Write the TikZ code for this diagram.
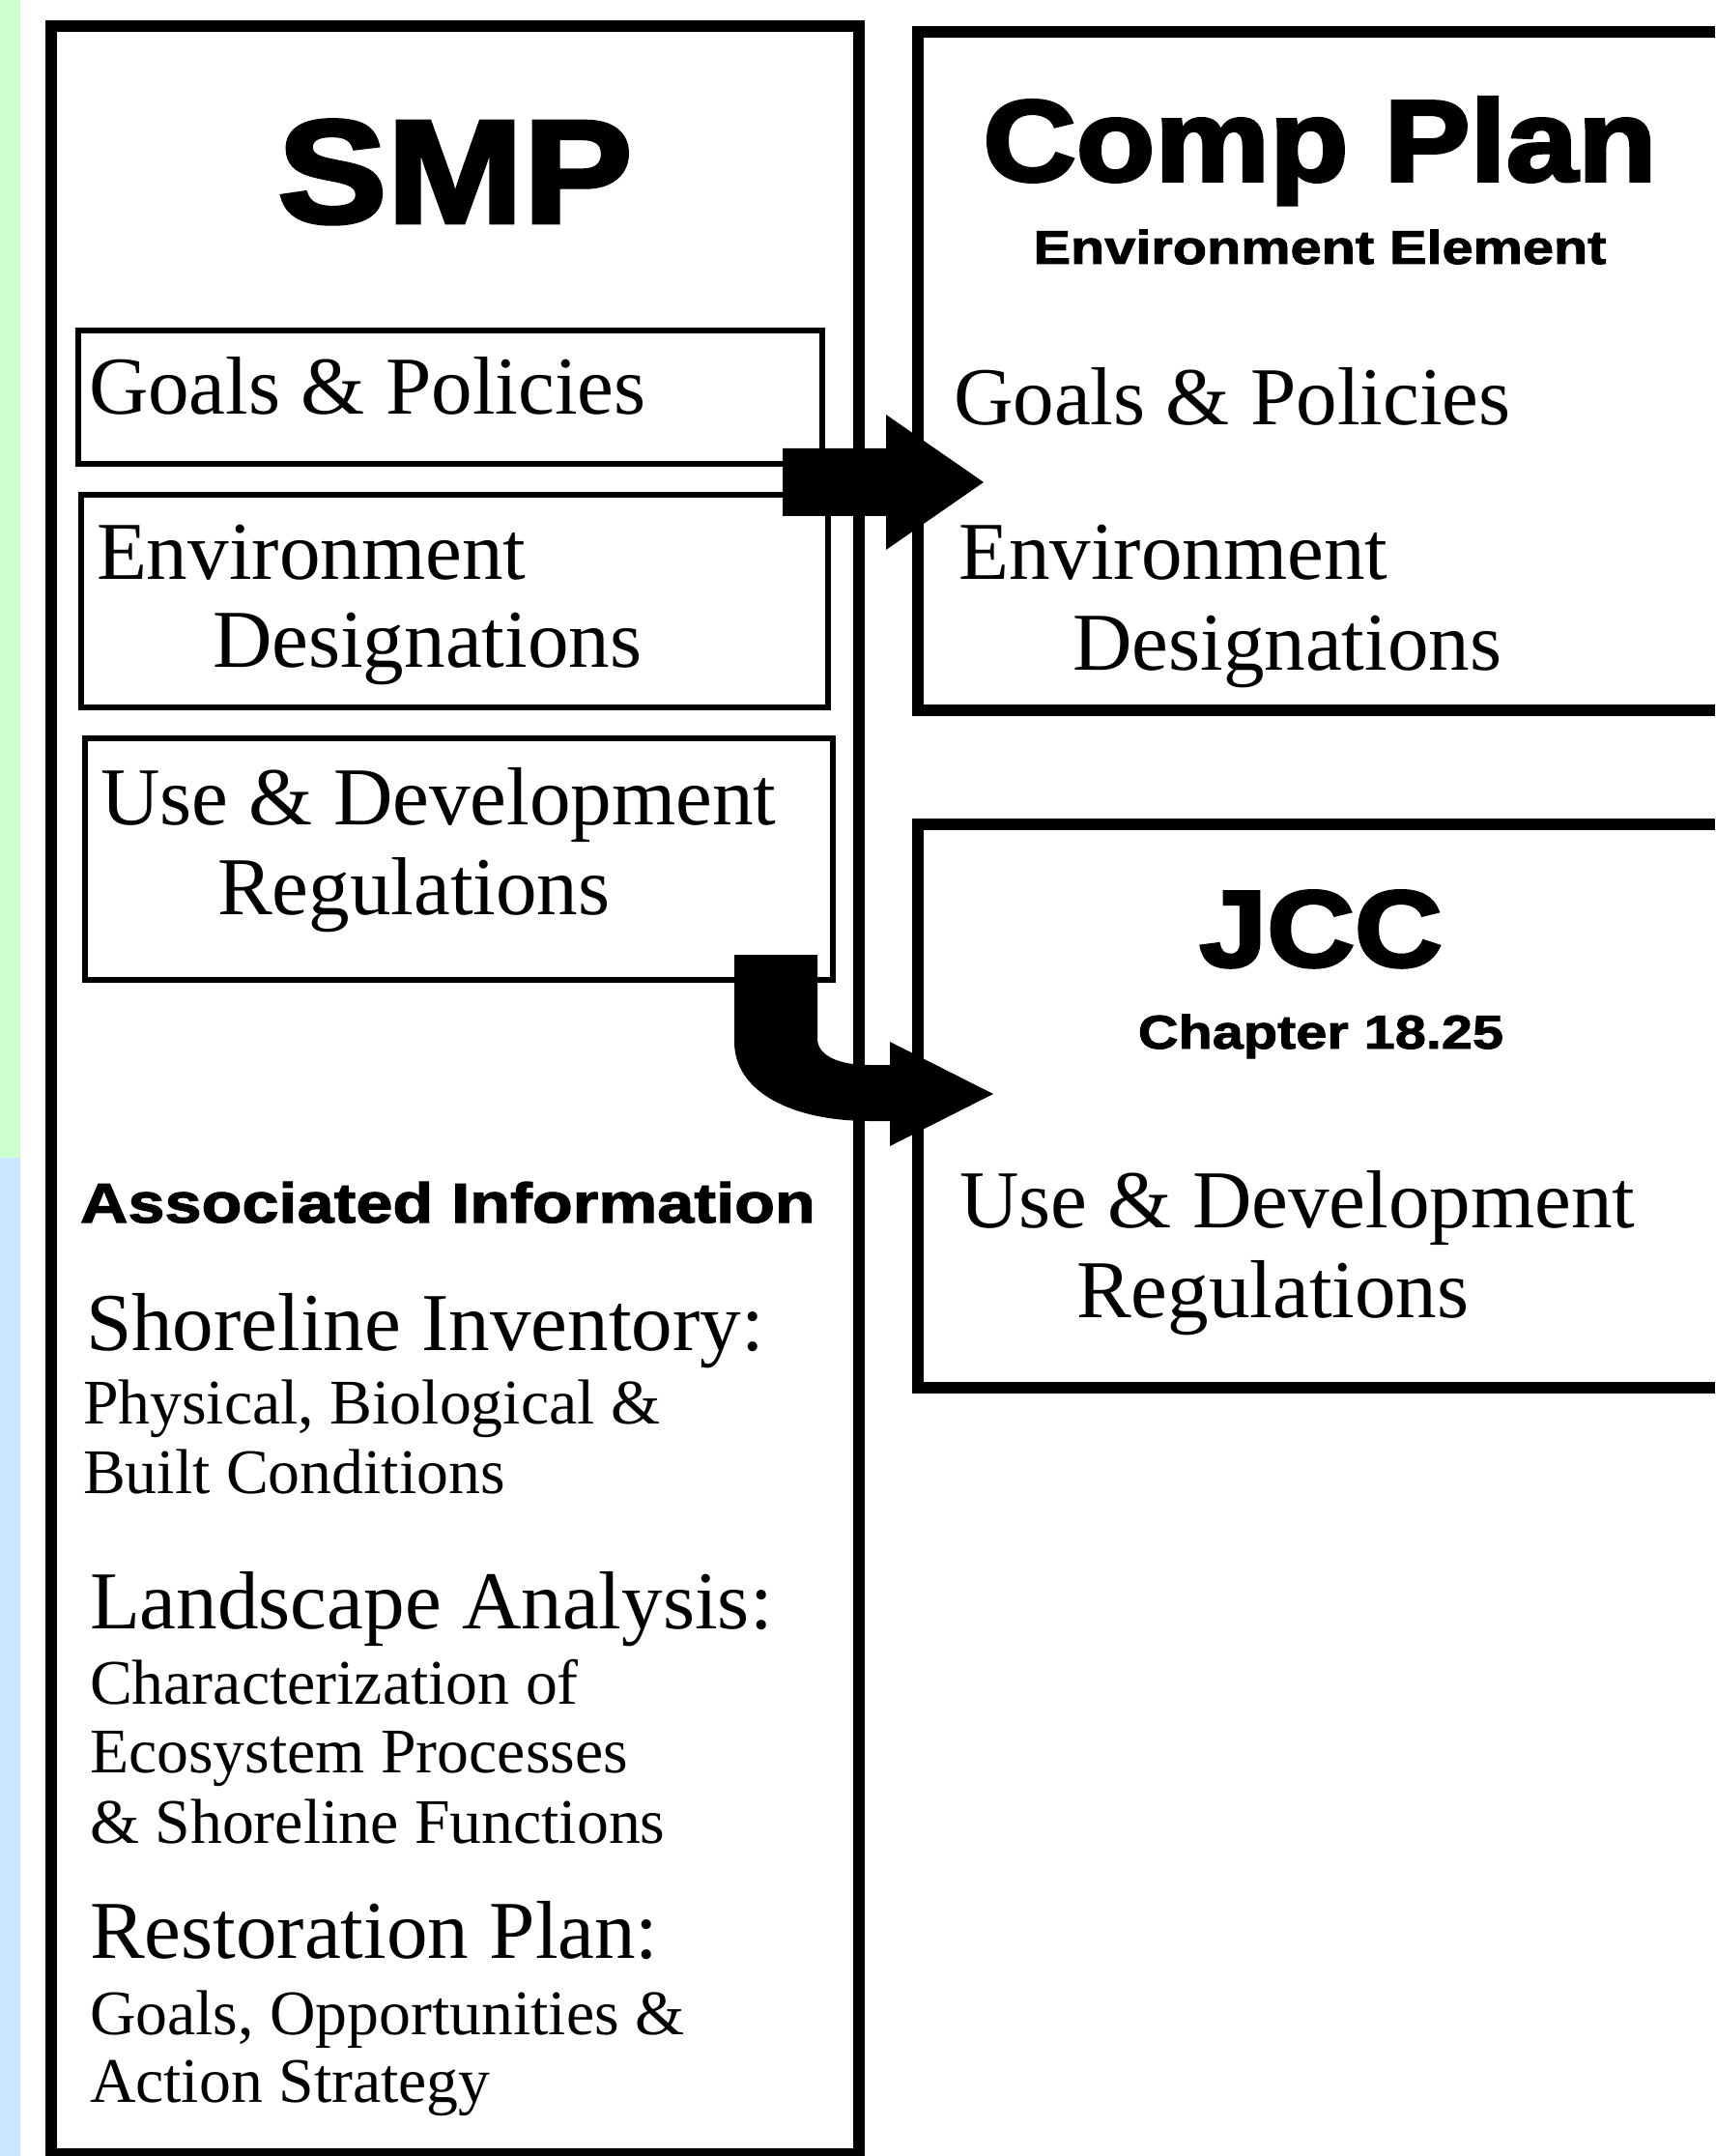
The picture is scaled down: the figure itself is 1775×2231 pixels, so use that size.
\documentclass[tikz,border=0pt]{standalone}
\usepackage{fontspec}
\setmainfont{Liberation Serif}
\newfontfamily\headfont{Liberation Sans Bold}[FakeBold=3,FakeStretch=1.12]
\newfontfamily\subheadfont{Liberation Sans Bold}[FakeBold=2,FakeStretch=1.18]
\usetikzlibrary{calc}
\definecolor{stripgreen}{RGB}{204,255,204}
\definecolor{stripblue}{RGB}{204,232,255}

\begin{document}
\begin{tikzpicture}[x=0.01cm, y=-0.01cm,
  every node/.style={inner sep=0pt, outer sep=0pt},
  outerbox/.style={draw, line width=3.4pt},
  innerbox/.style={draw, line width=1.6pt},
  bigtext/.style={anchor=base west, font=\fontsize{24.2}{29}\selectfont},
  smalltext/.style={anchor=base west, font=\fontsize{18.7}{22}\selectfont},
  heading/.style={anchor=base, font=\headfont\fontsize{#1}{#1}\selectfont},
  subheading/.style={anchor=base, font=\subheadfont\fontsize{#1}{#1}\selectfont}]
  \useasboundingbox (0,0) rectangle (1775,2231);

  % side strip
  \fill[stripgreen] (0,0) rectangle (21,1198);
  \fill[stripblue] (0,1198) rectangle (21,2231);

  % SMP column
  \draw[outerbox] (53,27) rectangle (889,2229);
  \draw[innerbox] (81,342) rectangle (851,480);
  \draw[innerbox] (84,512) rectangle (857,732);
  \draw[innerbox] (88,764) rectangle (862,1014);

  \node[heading=43] (smp) at (471,230) {SMP};
  \node[bigtext] (smpgoals) at (92,429) {Goals \& Policies};
  \node[bigtext] (smpenv) at (100,600) {Environment};
  \node[bigtext] (smpdes) at (220,690) {Designations};
  \node[bigtext] (smpuse) at (104,853) {Use \& Development};
  \node[bigtext] (smpreg) at (225,946) {Regulations};

  \node[subheading=16.5, anchor=base west] (assoc) at (83,1265) {Associated Information};
  \node[bigtext] (inv) at (89,1397) {Shoreline Inventory:};
  \node[smalltext] (invone) at (86,1473) {Physical, Biological \&};
  \node[smalltext] (invtwo) at (86,1545) {Built Conditions};
  \node[bigtext] (land) at (93,1685) {Landscape Analysis:};
  \node[smalltext] (landone) at (93,1763) {Characterization of};
  \node[smalltext] (landtwo) at (93,1834) {Ecosystem Processes};
  \node[smalltext] (landthree) at (93,1907) {\& Shoreline Functions};
  \node[bigtext] (rest) at (93,2026) {Restoration Plan:};
  \node[smalltext] (restone) at (93,2105) {Goals, Opportunities \&};
  \node[smalltext] (resttwo) at (93,2175) {Action Strategy};

  % Comp Plan
  \draw[outerbox] (1775,33) -- (950,33) -- (950,735) -- (1775,735);
  \node[heading=33.9] (cp) at (1366,187) {Comp Plan};
  \node[subheading=13.9] (cpsub) at (1366,273) {Environment Element};
  \node[bigtext] (cpgoals) at (987,440) {Goals \& Policies};
  \node[bigtext] (cpenv) at (992,600) {Environment};
  \node[bigtext] (cpdes) at (1110,693) {Designations};

  % JCC
  \draw[outerbox] (1775,853) -- (950,853) -- (950,1436) -- (1775,1436);
  \node[heading=31.9] (jcc) at (1367,1000) {JCC};
  \node[subheading=13.9] (jccsub) at (1367,1085) {Chapter 18.25};
  \node[bigtext] (jccuse) at (993,1270) {Use \& Development};
  \node[bigtext] (jccreg) at (1114,1363) {Regulations};

  % block arrows
  \coordinate (gpfrom) at (810,499);
  \coordinate (gpto) at (1018,499);
  \fill (gpfrom) ++(0,-35) -- ++(107,0) -- ++(0,-35) -- (gpto)
    -- ($(gpfrom)+(107,70)$) -- ++(0,-35) -- ++(-107,0) -- cycle;

  \coordinate (udfrom) at (803,988);
  \coordinate (udto) at (1028,1132);
  \fill ($(udfrom)+(-43,0)$) -- ++(0,90) .. controls (760,1130) and (820,1160) .. (900,1160)
    -- (921,1160) -- (921,1186) -- (udto) -- (921,1078) -- (921,1102) -- (898,1102)
    .. controls (868,1102) and (846,1092) .. (846,1075) -- ($(udfrom)+(43,0)$) -- cycle;
\end{tikzpicture}
\end{document}
